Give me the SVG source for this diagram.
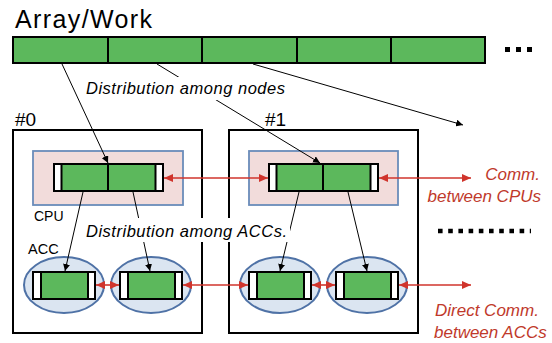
<svg xmlns="http://www.w3.org/2000/svg" width="552" height="343" viewBox="0 0 552 343">
  <style>
    .txt { font-family: "Liberation Sans", Arial, sans-serif; fill: #000; }
    .it { font-style: italic; }
    .red { fill: #c0392b; }
    .seg { fill: #5cb85c; stroke: #000; stroke-width: 2; }
    .cap { fill: #fff; stroke: #000; stroke-width: 2; }
    .div { stroke: #000; stroke-width: 2; }
    .node { fill: #fff; stroke: #000; stroke-width: 2; }
    .cpu { fill: #f2dcdb; stroke: #6a8cba; stroke-width: 1.8; }
    .acc { fill: #dbe5f1; stroke: #4f72a6; stroke-width: 2; }
    .dist { fill: none; stroke: #000; stroke-width: 1; }
    .comm { fill: none; stroke: #d0342c; stroke-width: 1.6; }
    .bg { fill: #fff; }
  </style>
  <defs>
    <marker id="ah" markerUnits="userSpaceOnUse" markerWidth="8" markerHeight="7" refX="7" refY="3.5" orient="auto">
      <path d="M0,0 L7,3.5 L0,7 z" fill="#000"/>
    </marker>
    <marker id="rh" markerUnits="userSpaceOnUse" markerWidth="10" markerHeight="8" refX="9" refY="4" orient="auto-start-reverse">
      <path d="M0,0 L9,4 L0,8 z" fill="#d0342c"/>
    </marker>
  </defs>

  <!-- Array / Work -->
  <g id="array">
    <text class="txt" x="15" y="28" font-size="25" textLength="137">Array/Work</text>
    <rect class="seg" x="13" y="37" width="472" height="26"/>
    <line class="div" x1="108" y1="37" x2="108" y2="63"/>
    <line class="div" x1="202" y1="37" x2="202" y2="63"/>
    <line class="div" x1="297" y1="37" x2="297" y2="63"/>
    <line class="div" x1="391" y1="37" x2="391" y2="63"/>
    <rect x="505" y="47" width="5" height="5" fill="#000"/>
    <rect x="516" y="47" width="5" height="5" fill="#000"/>
    <rect x="527" y="47" width="5" height="5" fill="#000"/>
  </g>

  <!-- Node #0 -->
  <g id="node0">
    <rect class="node" x="13" y="130" width="189" height="203"/>
    <text class="txt" x="15" y="126" font-size="19">#0</text>
    <rect class="cpu" x="33" y="151" width="150" height="54"/>
    <rect class="cap" x="54" y="164" width="109" height="27"/>
    <rect class="seg" x="61.5" y="164" width="94" height="27"/>
    <line class="div" x1="108" y1="164" x2="108" y2="191"/>
    <text class="txt" x="34" y="221" font-size="14">CPU</text>
    <text class="txt" x="28" y="254" font-size="14.5">ACC</text>
    <ellipse class="acc" cx="64" cy="285" rx="40" ry="28"/>
    <rect class="cap" x="33" y="272" width="62" height="27"/>
    <rect class="seg" x="41" y="272" width="47" height="27"/>
    <ellipse class="acc" cx="151" cy="285" rx="40" ry="28"/>
    <rect class="cap" x="120" y="272" width="62" height="27"/>
    <rect class="seg" x="128" y="272" width="47" height="27"/>
  </g>

  <!-- Node #1 -->
  <g id="node1">
    <rect class="node" x="229" y="130" width="189" height="203"/>
    <text class="txt" x="265" y="126" font-size="19">#1</text>
    <rect class="cpu" x="249" y="151" width="149" height="54"/>
    <rect class="cap" x="269" y="164" width="109" height="27"/>
    <rect class="seg" x="276.5" y="164" width="94" height="27"/>
    <line class="div" x1="323" y1="164" x2="323" y2="191"/>
    <ellipse class="acc" cx="280" cy="285" rx="40" ry="28"/>
    <rect class="cap" x="249" y="272" width="62" height="27"/>
    <rect class="seg" x="257" y="272" width="47" height="27"/>
    <ellipse class="acc" cx="367" cy="285" rx="40" ry="28"/>
    <rect class="cap" x="336" y="272" width="62" height="27"/>
    <rect class="seg" x="344" y="272" width="47" height="27"/>
  </g>

  <!-- Connectors -->
  <g id="connectors">
    <!-- distribution of the array among nodes -->
    <line class="dist" x1="62" y1="64" x2="108" y2="163" marker-end="url(#ah)"/>
    <line class="dist" x1="157" y1="64" x2="320" y2="163" marker-end="url(#ah)"/>
    <line class="dist" x1="253" y1="64" x2="463" y2="125" marker-end="url(#ah)"/>
    <!-- distribution among accelerators -->
    <line class="dist" x1="83" y1="192" x2="65" y2="271" marker-end="url(#ah)"/>
    <line class="dist" x1="133" y1="192" x2="150" y2="271" marker-end="url(#ah)"/>
    <line class="dist" x1="299" y1="192" x2="280" y2="271" marker-end="url(#ah)"/>
    <line class="dist" x1="348" y1="192" x2="367" y2="271" marker-end="url(#ah)"/>
    <!-- CPU communication -->
    <line class="comm" x1="164" y1="178" x2="268" y2="178" marker-start="url(#rh)" marker-end="url(#rh)"/>
    <line class="comm" x1="379" y1="178" x2="471" y2="178" marker-start="url(#rh)" marker-end="url(#rh)"/>
    <!-- direct accelerator communication -->
    <line class="comm" x1="96" y1="285" x2="119" y2="285" marker-start="url(#rh)" marker-end="url(#rh)"/>
    <line class="comm" x1="183" y1="285" x2="248" y2="285" marker-start="url(#rh)" marker-end="url(#rh)"/>
    <line class="comm" x1="312" y1="285" x2="335" y2="285" marker-start="url(#rh)" marker-end="url(#rh)"/>
    <line class="comm" x1="399" y1="285" x2="471" y2="285" marker-start="url(#rh)" marker-end="url(#rh)"/>
  </g>

  <!-- Labels -->
  <g id="labels">
    <rect class="bg" x="82" y="77" width="206" height="23"/>
    <text class="txt it" x="86" y="94" font-size="16.5" textLength="199">Distribution among nodes</text>
    <rect class="bg" x="84" y="218" width="206" height="24"/>
    <text class="txt it" x="86" y="237" font-size="16.5" textLength="201">Distribution among ACCs.</text>
    <text class="txt it red" x="540" y="180" font-size="17" text-anchor="end">Comm.</text>
    <text class="txt it red" x="541" y="202" font-size="17" text-anchor="end">between CPUs</text>
    <text class="txt it red" x="435" y="316" font-size="17">Direct Comm.</text>
    <text class="txt it red" x="434" y="338" font-size="17">between ACCs</text>
    <line x1="438" y1="231" x2="531" y2="231" stroke="#000" stroke-width="4.5" stroke-dasharray="4.6 5.6"/>
  </g>
</svg>
